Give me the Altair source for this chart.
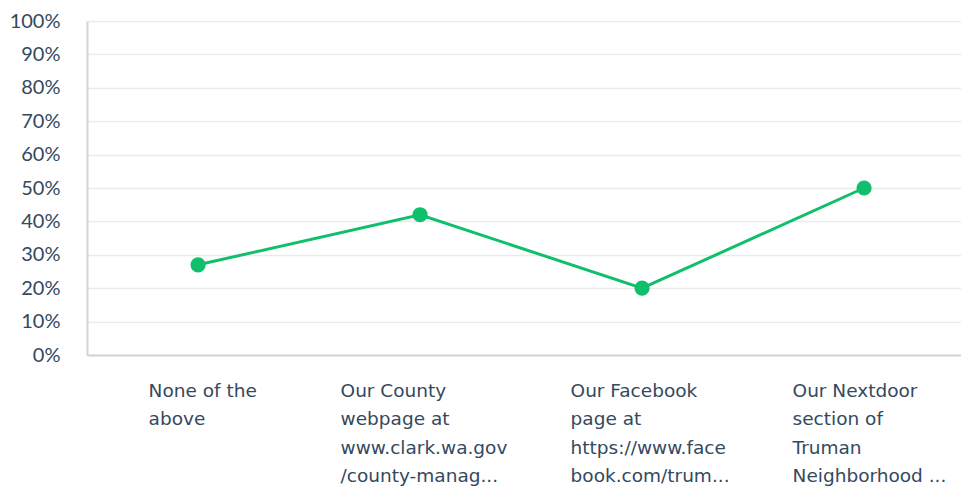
import altair as alt
import pandas as pd

categories = [
    "None of the|above",
    "Our County|webpage at|www.clark.wa.gov|/county-manag...",
    "Our Facebook|page at|https://www.face|book.com/trum...",
    "Our Nextdoor|section of|Truman|Neighborhood ...",
]
values = [27, 42, 20, 50]

df = pd.DataFrame({"cat": categories, "pct": [v / 100 for v in values]})

green = "#0fbf6c"
text_color = "#34495e"

x_enc = alt.X(
    "cat:N",
    sort=categories,
    scale=alt.Scale(type="point", padding=0.4685, align=0.534),
    axis=alt.Axis(
        title=None,
        labelExpr="split(datum.label, '|')",
        labelAngle=0,
        labelAlign="left",
        labelBaseline="top",
        labelFont="DejaVu Sans",
        labelFontSize=18.5,
        labelLineHeight=28.5,
        labelColor=text_color,
        labelPadding=26,
        labelOffset={
            "condition": [
                {"test": "datum.value == '%s'" % categories[0], "value": -50},
                {"test": "datum.value == '%s'" % categories[1], "value": -80},
            ],
            "value": -72,
        },
        ticks=False,
        grid=False,
        domainColor="#d4d4d4",
        domainWidth=2,
        labelLimit=400,
    ),
)

y_enc = alt.Y(
    "pct:Q",
    scale=alt.Scale(domain=[0, 1]),
    axis=alt.Axis(
        title=None,
        format=".0%",
        values=[i / 10 for i in range(11)],
        ticks=False,
        labelFont="Lato",
        labelFontSize=20,
        labelColor=text_color,
        labelPadding=27,
        gridColor="#ebebeb",
        gridWidth=1.5,
        domainColor="#d4d4d4",
        domainWidth=2,
    ),
)

line = alt.Chart(df).mark_line(color=green, strokeWidth=3).encode(x=x_enc, y=y_enc)
pts = alt.Chart(df).mark_point(filled=True, color=green, size=230, opacity=1).encode(x=x_enc, y=y_enc)

chart = (
    alt.layer(line, pts)
    .properties(
        width=874,
        height=334,
        autosize=alt.AutoSizeParams(type="none"),
        padding={"left": 79, "top": 13, "right": 0, "bottom": 135},
    )
    .configure_view(stroke=None)
)

chart.save("out.html", embed_options={"renderer": "svg", "actions": False})
